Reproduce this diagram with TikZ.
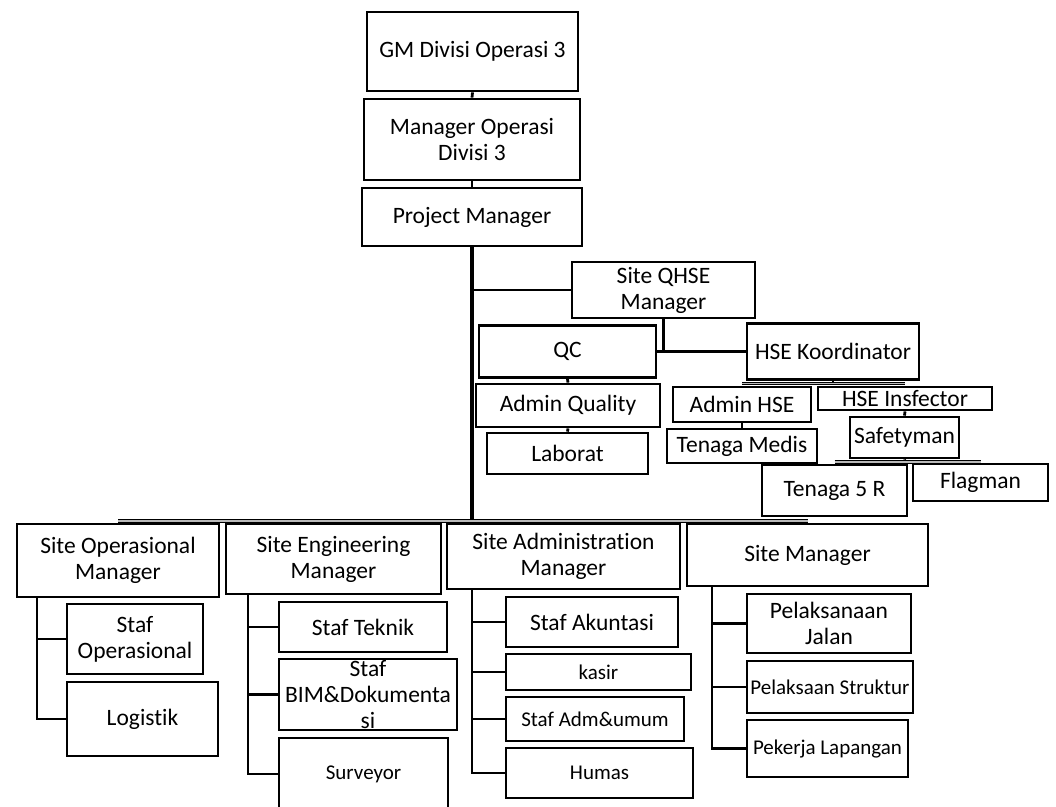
\documentclass[tikz,border=0pt]{standalone}
\usepackage{fontspec}
\setmainfont[Ligatures={NoCommon}]{Carlito}
\newcommand\fsA{\fontsize{23.5pt}{26pt}\selectfont}
\newcommand\fsB{\fontsize{21pt}{24pt}\selectfont}
\tikzset{
  box/.style={draw, line width=2.8pt, inner sep=0pt, align=center, font=\fsA},
  sbox/.style={box, font=\fsB},
  conn/.style={line width=2.8pt},
  trunk/.style={line width=3.8pt},
  bar/.style={double=gray!55, double distance=1.4pt, line width=1.1pt},
}
\begin{document}
\begin{tikzpicture}[x=1pt, y=-1pt]
\useasboundingbox (0,0) rectangle (1056,806);
\clip (0,0) rectangle (1056,806);
% top chain
\node[box, minimum width=211pt, minimum height=79pt] (gm) at (472.5,51.5) {GM Divisi Operasi 3};
\node[box, minimum width=216pt, minimum height=81pt] (mo) at (472,139.5) {Manager Operasi\\Divisi 3};
\node[box, minimum width=220pt, minimum height=58pt] (pm) at (472,217) {Project Manager};
% QHSE branch
\node[box, minimum width=183pt, minimum height=56pt] (qhse) at (663.5,290) {Site QHSE\\Manager};
\node[box, minimum width=177pt, minimum height=52pt] (qc) at (567.5,351.5) {QC};
\node[box, minimum width=184pt, minimum height=43pt] (aq) at (568,405.5) {Admin Quality};
\node[box, minimum width=161pt, minimum height=41pt] (lab) at (567.5,453.5) {Laborat};
\node[box, minimum width=172pt, minimum height=56pt] (hsek) at (833,351.5) {HSE Koordinator};
\node[box, minimum width=138pt, minimum height=35pt] (ahse) at (742,404.5) {Admin HSE};
\node[box, minimum width=174pt, minimum height=23pt] (hsei) at (905,398.5) {HSE Insfector};
\node[box, minimum width=150pt, minimum height=34pt] (tm) at (742,446) {Tenaga Medis};
\node[box, minimum width=109pt, minimum height=41pt] (sfm) at (904.5,437.5) {Safetyman};
\node[box, minimum width=145pt, minimum height=51pt] (t5r) at (834.5,490.5) {Tenaga 5 R};
\node[box, minimum width=135pt, minimum height=37pt] (flag) at (980.5,482.5) {Flagman};
% site managers
\node[box, minimum width=202pt, minimum height=73pt] (som) at (118,560.5) {Site Operasional\\Manager};
\node[box, minimum width=215pt, minimum height=70pt] (sem) at (333.5,559) {Site Engineering\\Manager};
\node[box, minimum width=233pt, minimum height=65pt] (sam) at (563.5,556.5) {Site Administration\\Manager};
\node[box, minimum width=241pt, minimum height=62pt] (sitem) at (807.5,555) {Site Manager};
% operasional children
\node[box, minimum width=136pt, minimum height=70pt] (so) at (135,639) {Staf\\Operasional};
\node[box, minimum width=151pt, minimum height=74pt] (log) at (142.5,719) {Logistik};
% engineering children
\node[box, minimum width=168pt, minimum height=50pt] (st) at (363,627) {Staf Teknik};
\node[box, minimum width=178pt, minimum height=71pt] (bim) at (368,694.5) {Staf\\BIM\&Dokumenta\\si};
\node[sbox, minimum width=169pt, minimum height=72pt] (surv) at (363.5,774) {Surveyor};
% administration children
\node[box, minimum width=172pt, minimum height=50pt] (sa) at (592,622) {Staf Akuntasi};
\node[sbox, minimum width=185pt, minimum height=36pt] (kasir) at (598.5,672) {kasir};
\node[sbox, minimum width=178pt, minimum height=44pt] (sadm) at (595,719) {Staf Adm\&umum};
\node[sbox, minimum width=187pt, minimum height=50pt] (humas) at (599.5,773) {Humas};
% site manager children
\node[box, minimum width=164pt, minimum height=59pt] (pj) at (829,623.5) {Pelaksanaan\\Jalan};
\node[sbox, minimum width=166pt, minimum height=52pt] (ps) at (830,687) {Pelaksaan Struktur};
\node[sbox, minimum width=161pt, minimum height=57pt] (pl) at (827.5,748.5) {Pekerja Lapangan};
% coordinates for buses
\coordinate (mb) at (472,521);
\coordinate (hb) at (833,383.5);
\coordinate (sb) at (905,462);
\coordinate (somv) at (37,597);
\coordinate (semv) at (248,594);
\coordinate (samv) at (472,589);
\coordinate (sitv) at (712,586);
% top connectors
\draw[conn] (gm.south) -- (mo.north);
\draw[conn] (mo.south) -- (pm.north);
\draw[trunk] (pm.south) -- (mb);
\draw[conn] (qhse.west) -- (qhse.west -| pm.south);
\draw[conn] (qhse.south) |- (hsek.west);
\draw[conn] (qc.east) -- (qc.east -| qhse.south);
\draw[conn] (qc.south) -- (aq.north);
\draw[conn] (aq.south) -- (lab.north);
\draw[conn] (hsek.south) -- (hb);
\draw[bar] (ahse.north |- hb) -- (hsei.north |- hb);
\draw[conn] (ahse.south) -- (tm.north);
\draw[conn] (hsei.south) -- (sfm.north);
\draw[conn] (sfm.south) -- (sb);
\draw[bar] (t5r.north |- sb) -- (flag.north |- sb);
% main bus
\draw[bar] (som.north |- mb) -- (sitem.north |- mb);
% operasional
\draw[conn] (somv) |- (log.west);
\draw[conn] (so.west) -- (so.west -| somv);
% engineering
\draw[conn] (semv) |- (surv.west);
\draw[conn] (st.west) -- (st.west -| semv);
\draw[conn] (bim.west) -- (bim.west -| semv);
% administration
\draw[conn] (samv) |- (humas.west);
\draw[conn] (sa.west) -- (sa.west -| samv);
\draw[conn] (kasir.west) -- (kasir.west -| samv);
\draw[conn] (sadm.west) -- (sadm.west -| samv);
% site manager
\draw[conn] (sitv) |- (pl.west);
\draw[conn] (pj.west) -- (pj.west -| sitv);
\draw[conn] (ps.west) -- (ps.west -| sitv);
\end{tikzpicture}
\end{document}
